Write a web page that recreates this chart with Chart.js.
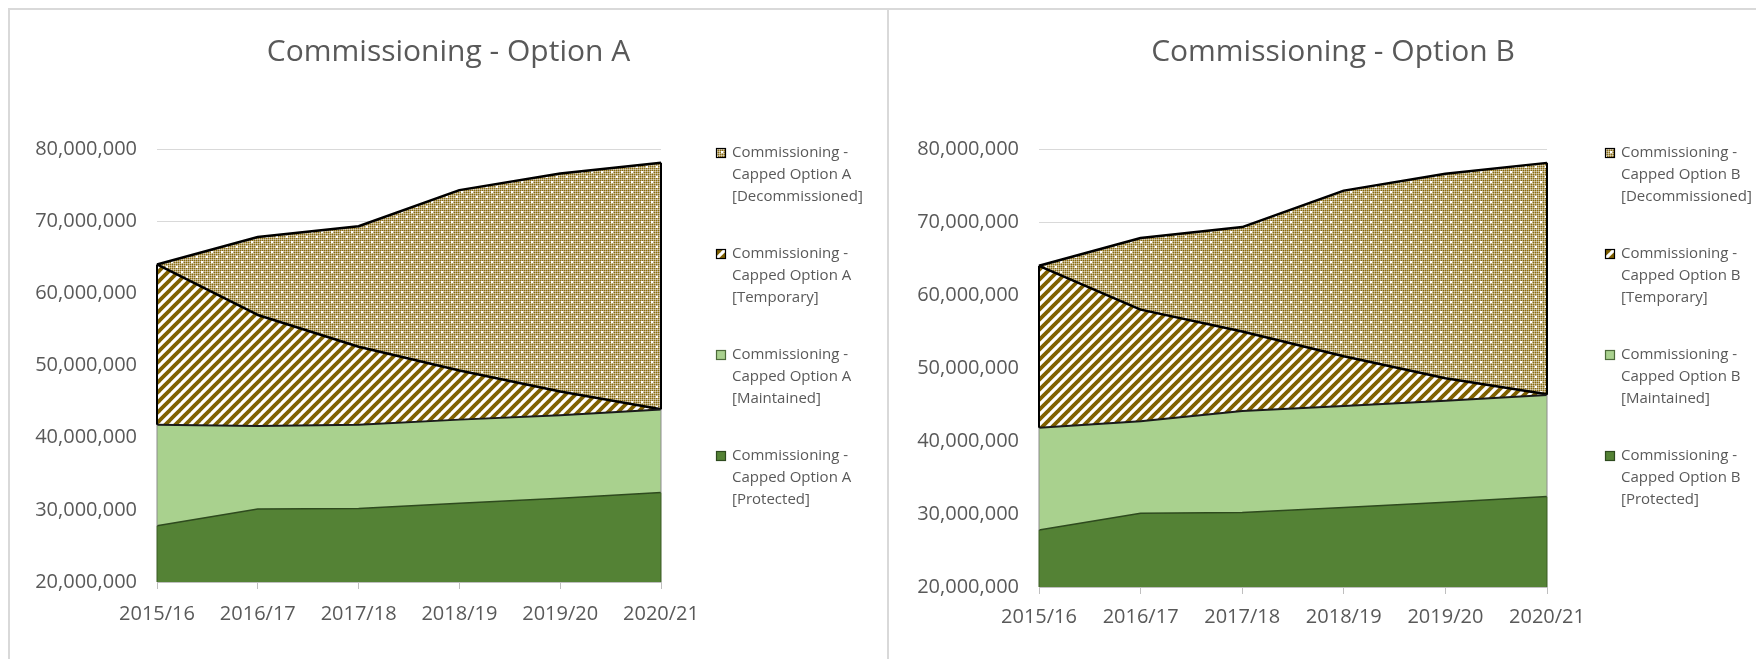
<!DOCTYPE html>
<html>
<head>
<meta charset="utf-8">
<script src="https://cdn.jsdelivr.net/npm/chart.js@4.4.1/dist/chart.umd.min.js"></script>
<style>
  html, body { margin:0; padding:0; background:#fff; overflow:hidden; width:1756px; height:659px; }
  .frame { position:absolute; border-left:2px solid #d9d9d9; border-top:2px solid #d9d9d9; box-sizing:border-box; }
  #f1 { left:8px; top:8px; width:881px; height:660px; }
  #f2 { left:887px; top:8px; width:900px; height:660px; }
  canvas { position:absolute; }
  #c1 { left:10px; top:10px; }
  #c2 { left:889px; top:10px; }
</style>
</head>
<body>
<div class="frame" id="f1"></div>
<div class="frame" id="f2"></div>
<canvas id="c1" width="877" height="649"></canvas>
<canvas id="c2" width="888" height="649"></canvas>
<script>
// ---------------- DATA ----------------
const categories = ['2015/16', '2016/17', '2017/18', '2018/19', '2019/20', '2020/21'];
const yTickValues = [20000000, 30000000, 40000000, 50000000, 60000000, 70000000, 80000000];

const titleA = 'Commissioning - Option A';
const titleB = 'Commissioning - Option B';

const seriesNamesA = [
  'Commissioning - Capped Option A [Protected]',
  'Commissioning - Capped Option A [Maintained]',
  'Commissioning - Capped Option A [Temporary]',
  'Commissioning - Capped Option A [Decommissioned]'
];
const seriesNamesB = [
  'Commissioning - Capped Option B [Protected]',
  'Commissioning - Capped Option B [Maintained]',
  'Commissioning - Capped Option B [Temporary]',
  'Commissioning - Capped Option B [Decommissioned]'
];

// Option A (stacked components)
const protectedA      = [27800000, 30100000, 30200000, 30900000, 31600000, 32400000];
const maintainedA     = [14000000, 11500000, 11600000, 11600000, 11500000, 11500000];
const temporaryA      = [22200000, 15400000, 10800000,  6800000,  3300000,    50000];
const decommissionedA = [       0, 10800000, 16700000, 25000000, 30200000, 34150000];

// Option B (stacked components)
const protectedB      = [27800000, 30100000, 30200000, 30900000, 31600000, 32400000];
const maintainedB     = [14000000, 12600000, 13900000, 13900000, 13900000, 13900000];
const temporaryB      = [22200000, 15300000, 10900000,  6800000,  3100000,   100000];
const decommissionedB = [       0,  9800000, 14300000, 22700000, 28000000, 31700000];

// ---------------- PATTERNS ----------------
function makeStripePattern(ctx) {
  const s = 10;
  const c = document.createElement('canvas');
  c.width = s; c.height = s;
  const g = c.getContext('2d');
  g.fillStyle = '#ffffff';
  g.fillRect(0, 0, s, s);
  g.strokeStyle = '#7f6000';
  g.lineWidth = 3.8;
  g.lineCap = 'square';
  for (let k = -1; k <= 1; k++) {
    g.beginPath();
    g.moveTo(k * s - 1, s + 1);
    g.lineTo(k * s + s + 1, -1);
    g.stroke();
  }
  return ctx.createPattern(c, 'repeat');
}

function makeDotPattern(ctx) {
  const s = 10;
  const c = document.createElement('canvas');
  c.width = s; c.height = s;
  const g = c.getContext('2d');
  g.fillStyle = '#b7a676';
  g.fillRect(0, 0, s, s);
  for (let y = 0; y < s; y++) {
    for (let x = 0; x < s; x++) {
      if (x % 2 === 0 && y % 2 === 0) { g.fillStyle = '#8a6d10'; g.fillRect(x, y, 1, 1); }
      else if (x % 2 === 1 && y % 2 === 1) { g.fillStyle = '#ddd3b5'; g.fillRect(x, y, 1, 1); }
    }
  }
  g.fillStyle = '#ffffff';
  g.fillRect(1, 1, 2, 2);
  g.fillRect(6, 6, 2, 2);
  return ctx.createPattern(c, 'repeat');
}

// ---------------- PLUGINS ----------------
const edgePlugin = {
  id: 'areaEdges',
  afterDatasetsDraw(chart) {
    const ctx = chart.ctx;
    const area = chart.chartArea;
    ctx.save();
    ctx.beginPath();
    ctx.rect(area.left - 3, area.top - 3, area.width + 6, area.height + 6);
    ctx.clip();
    chart.data.datasets.forEach((ds, i) => {
      const meta = chart.getDatasetMeta(i);
      const prev = i > 0 ? chart.getDatasetMeta(i - 1) : null;
      [0, meta.data.length - 1].forEach(idx => {
        const p = meta.data[idx];
        const yb = prev ? prev.data[idx].y : area.bottom;
        ctx.strokeStyle = ds.edgeColor;
        ctx.lineWidth = ds.edgeWidth;
        ctx.beginPath();
        ctx.moveTo(p.x, yb);
        ctx.lineTo(p.x, p.y);
        ctx.stroke();
      });
    });
    ctx.restore();
  }
};

const sideLegend = {
  id: 'sideLegend',
  afterDraw(chart, args, opts) {
    const ctx = chart.ctx;
    ctx.save();
    ctx.font = '15px "Open Sans"';
    ctx.textBaseline = 'middle';
    ctx.textAlign = 'left';
    const n = chart.data.datasets.length;
    for (let k = 0; k < n; k++) {
      const di = n - 1 - k;
      const ds = chart.data.datasets[di];
      const y0 = opts.top + k * opts.gap;
      ctx.fillStyle = ds.backgroundColor;
      ctx.fillRect(opts.sx, y0 - 5, 10, 10);
      ctx.strokeStyle = ds.swatchBorder;
      ctx.lineWidth = 1.2;
      ctx.strokeRect(opts.sx + 0.5, y0 - 4.5, 9, 9);
      const m = ds.label.match(/^(.*-)\s(.*)\s(\[.*\])$/);
      const lines = m ? [m[1], m[2], m[3]] : [ds.label];
      ctx.fillStyle = '#595959';
      lines.forEach((t, j) => ctx.fillText(t, opts.tx, y0 + j * opts.lineH));
    }
    ctx.restore();
  }
};

// ---------------- CHART BUILDER ----------------
function buildChart(canvasId, title, names, prot, maint, temp, decom, geo) {
  const cv = document.getElementById(canvasId);
  const ctx = cv.getContext('2d');
  const stripes = makeStripePattern(ctx);
  const dots = makeDotPattern(ctx);
  const datasets = [
    { label: names[0], data: prot, backgroundColor: '#548235', borderColor: '#2e4a1e', borderWidth: 1.5,
      fill: 'origin', edgeColor: '#3a5a24', edgeWidth: 1, swatchBorder: '#2e4a1e' },
    { label: names[1], data: maint, backgroundColor: '#a9d18e', borderColor: '#1a1a1a', borderWidth: 2,
      fill: '-1', edgeColor: '#8c8c8c', edgeWidth: 1, swatchBorder: '#4d6b3a' },
    { label: names[2], data: temp, backgroundColor: stripes, borderColor: '#000000', borderWidth: 2.5,
      fill: '-1', edgeColor: '#000000', edgeWidth: 2, swatchBorder: '#000000' },
    { label: names[3], data: decom, backgroundColor: dots, borderColor: '#000000', borderWidth: 2.5,
      fill: '-1', edgeColor: '#000000', edgeWidth: 2, swatchBorder: '#000000' }
  ];
  datasets.forEach(d => { d.pointRadius = 0; d.tension = 0; d.borderJoinStyle = 'round'; d.yAxisID = 'y'; d.xAxisID = 'x'; });

  return new Chart(ctx, {
    type: 'line',
    data: { labels: categories, datasets },
    plugins: [edgePlugin, sideLegend],
    options: {
      responsive: false,
      animation: false,
      events: [],
      layout: { padding: { left: 0, right: 0, top: 0, bottom: geo.padBottom } },
      plugins: {
        legend: { display: false },
        tooltip: { enabled: false },
        title: {
          display: true,
          text: title,
          color: '#595959',
          font: { family: 'Open Sans', size: 30, weight: 'normal' },
          padding: { top: 24, bottom: 79 }
        },
        sideLegend: { sx: geo.sx, tx: geo.tx, top: 143, gap: 101, lineH: 22 }
      },
      scales: {
        x: {
          offset: false,
          grid: { drawOnChartArea: false, drawTicks: true, tickLength: 7, color: '#bfbfbf' },
          border: { display: true, color: '#bfbfbf', width: 1 },
          ticks: { color: '#595959', font: { family: 'Open Sans', size: 20 }, padding: geo.xPad,
                   maxRotation: 0, autoSkip: false }
        },
        y: {
          stacked: true,
          position: 'left',
          min: yTickValues[0],
          max: yTickValues[yTickValues.length - 1],
          afterBuildTicks: s => { s.ticks = yTickValues.map(v => ({ value: v })); },
          afterFit: s => { s.width = geo.yWidth; },
          grid: { color: '#d9d9d9', lineWidth: 1, drawTicks: false },
          border: { display: false },
          ticks: {
            color: '#595959',
            font: { family: 'Open Sans', size: 20 },
            padding: 20,
            callback: v => Number(v).toLocaleString('en-US')
          }
        },
        legendSpace: {
          type: 'linear',
          position: 'right',
          display: true,
          grid: { display: false, drawTicks: false },
          border: { display: false },
          ticks: { display: false },
          afterFit: s => { s.width = geo.padRight; }
        }
      }
    }
  });
}

buildChart('c1', titleA, seriesNamesA, protectedA, maintainedA, temporaryA, decommissionedA,
  { padRight: 226, padBottom: 20, yWidth: 147, xPad: 13, sx: 706, tx: 722 });
buildChart('c2', titleB, seriesNamesB, protectedB, maintainedB, temporaryB, decommissionedB,
  { padRight: 230, padBottom: 19, yWidth: 150, xPad: 11, sx: 716, tx: 732 });
</script>
</body>
</html>
